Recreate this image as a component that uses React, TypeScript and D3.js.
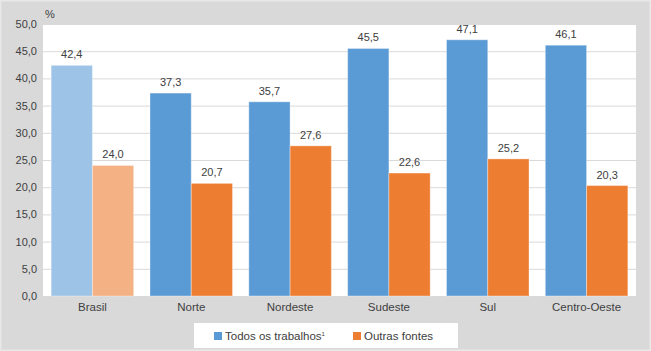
import { useEffect, useRef } from "react"
import * as d3 from "d3"

const categories = ["Brasil", "Norte", "Nordeste", "Sudeste", "Sul", "Centro-Oeste"]
const todosTrabalhos = [42.4, 37.3, 35.7, 45.5, 47.1, 46.1]
const outrasFontes = [24.0, 20.7, 27.6, 22.6, 25.2, 20.3]
const yTicks = [0, 5, 10, 15, 20, 25, 30, 35, 40, 45, 50]
const seriesNames = ["Todos os trabalhos", "Outras fontes"]

const BLUE = "#5b9bd5", ORANGE = "#ed7d31"
const BLUE_LIGHT = "#9dc3e6", ORANGE_LIGHT = "#f4b183"
const TEXT = "#404040"
const FONT = "'Liberation Sans', Arial, sans-serif"

export default function App() {
  const ref = useRef<SVGSVGElement>(null)
  useEffect(() => {
    document.body.style.margin = "0"
    if (!ref.current) return
    const W = 651, H = 351
    const m = { top: 24, right: 15, bottom: 55, left: 43 }
    const iw = W - m.left - m.right, ih = H - m.top - m.bottom
    const root = d3.select(ref.current)
    root.selectAll("*").remove()

    root.append("rect").attr("width", W).attr("height", H).attr("fill", "#d9d9d9")
    root.append("rect").attr("x", 0.5).attr("y", 0.5).attr("width", W - 1).attr("height", H - 1)
      .attr("fill", "none").attr("stroke", "#e8e8e8").attr("stroke-width", 2)

    const svg = root.append("g").attr("transform", `translate(${m.left},${m.top})`)
    svg.append("rect").attr("width", iw).attr("height", ih).attr("fill", "#fff")

    const x = d3.scaleBand().domain(categories).range([0, iw]).paddingInner(0.165).paddingOuter(0.0825)
    const x1 = d3.scaleBand().domain(seriesNames).range([0, x.bandwidth()])
    const y = d3.scaleLinear().domain([0, 50]).range([ih, 0])

    svg.append("g").call(d3.axisLeft(y).tickValues(yTicks).tickSize(-iw).tickFormat(d => d3.format(".1f")(d as number).replace(".", ",")))
      .call(g => {
        g.select(".domain").remove()
        g.selectAll("line").style("stroke", "#d9d9d9")
        g.selectAll("text").attr("x", -6).style("fill", TEXT).style("font-size", "11px").style("font-family", FONT)
      })

    svg.append("text").attr("x", 2).attr("y", -6).style("fill", TEXT).style("font-size", "11px").style("font-family", FONT).text("%")

    const fmt = (v: number) => v.toFixed(1).replace(".", ",")
    const groups = svg.selectAll("g.grp").data(categories).join("g").attr("class", "grp")
      .attr("transform", d => `translate(${x(d)},0)`)

    const series = [todosTrabalhos, outrasFontes]
    series.forEach((vals, si) => {
      groups.append("rect")
        .attr("x", x1(seriesNames[si])!)
        .attr("y", (_, i) => y(vals[i]))
        .attr("width", x1.bandwidth())
        .attr("height", (_, i) => ih - y(vals[i]))
        .attr("fill", (_, i) => i === 0 ? (si === 0 ? BLUE_LIGHT : ORANGE_LIGHT) : (si === 0 ? BLUE : ORANGE))
        .attr("stroke", "rgba(255,255,255,0.35)").attr("stroke-width", 1)
      groups.append("text")
        .attr("x", x1(seriesNames[si])! + x1.bandwidth() / 2)
        .attr("y", (_, i) => y(vals[i]) - 7)
        .attr("text-anchor", "middle")
        .style("fill", TEXT).style("font-size", "11px").style("font-family", FONT)
        .text((_, i) => fmt(vals[i]))
    })

    svg.append("g").selectAll("text").data(categories).join("text")
      .attr("x", d => x(d)! + x.bandwidth() / 2).attr("y", ih + 15)
      .attr("text-anchor", "middle")
      .style("fill", TEXT).style("font-size", "11.5px").style("font-family", FONT)
      .text(d => d)

    // legend
    const lg = root.append("g").attr("transform", "translate(194,323)")
    lg.append("rect").attr("width", 264).attr("height", 25).attr("fill", "#fff")
    const items = [{ c: BLUE, t: "Todos os trabalhos", sup: true, x: 20 }, { c: ORANGE, t: "Outras fontes", sup: false, x: 159 }]
    items.forEach(it => {
      lg.append("rect").attr("x", it.x).attr("y", 9).attr("width", 8).attr("height", 8).attr("fill", it.c)
      const t = lg.append("text").attr("x", it.x + 11).attr("y", 17)
        .style("fill", TEXT).style("font-size", "11.5px").style("font-family", FONT).text(it.t)
      if (it.sup) t.append("tspan").attr("dy", -4).style("font-size", "6px").text("1")
    })
  }, [])
  return <svg ref={ref} width={651} height={351} style={{ display: "block" }} />
}
